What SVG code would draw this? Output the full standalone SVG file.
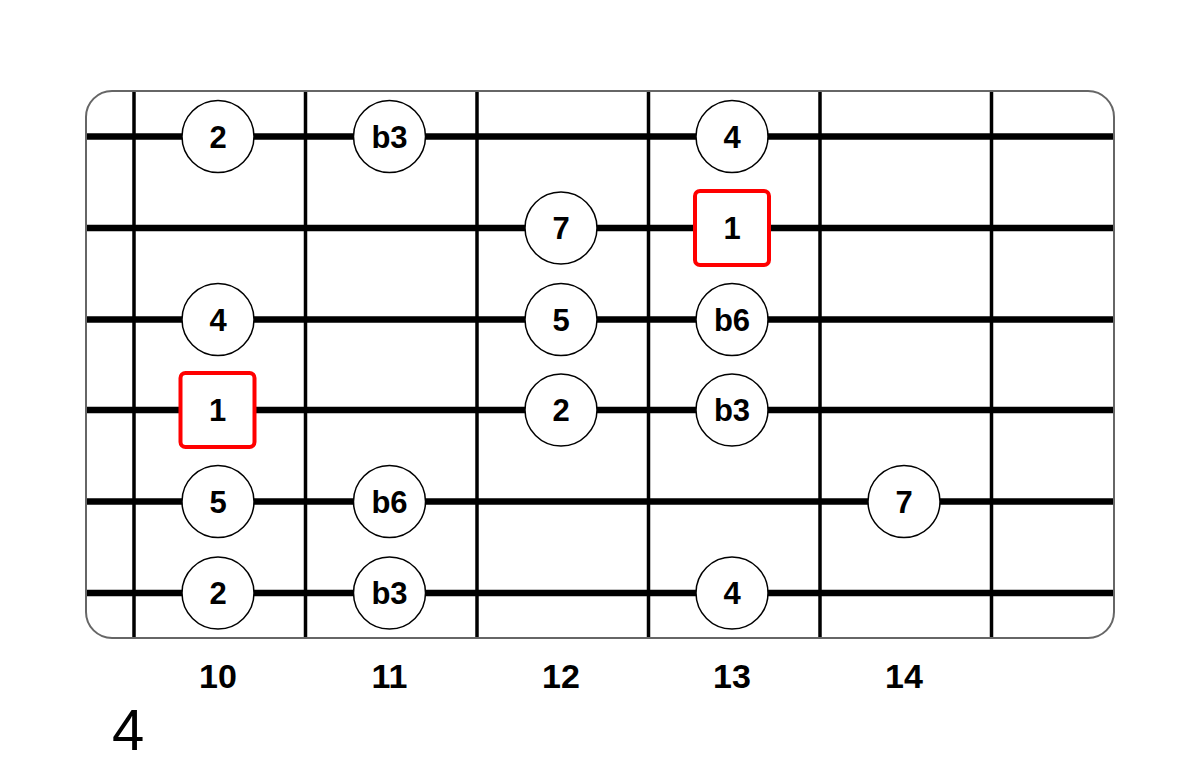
<svg xmlns="http://www.w3.org/2000/svg" width="1200" height="774" viewBox="0 0 1200 774">
<style>
.board{fill:#fff;stroke:#666;stroke-width:2}
.fret{stroke:#000;stroke-width:3.5}
.str{stroke:#000;stroke-width:6.5}
.dot{fill:#fff;stroke:#000;stroke-width:1.5}
.root{fill:#fff;stroke:#f00;stroke-width:4}
.lbl{font-family:"Liberation Sans",Arial,sans-serif;font-weight:bold;font-size:31px;text-anchor:middle;fill:#000}
.num{font-family:"Liberation Sans",Arial,sans-serif;font-weight:bold;font-size:34px;text-anchor:middle;fill:#000}
</style>
<rect class="board" x="86" y="91" width="1028" height="547" rx="26"/>
<g id="connectors">
<line class="fret" x1="134" y1="92" x2="134" y2="637"/>
<line class="fret" x1="305.5" y1="92" x2="305.5" y2="637"/>
<line class="fret" x1="477" y1="92" x2="477" y2="637"/>
<line class="fret" x1="648.5" y1="92" x2="648.5" y2="637"/>
<line class="fret" x1="820" y1="92" x2="820" y2="637"/>
<line class="fret" x1="991.5" y1="92" x2="991.5" y2="637"/>
<line class="str" x1="87" y1="136.5" x2="1113" y2="136.5"/>
<line class="str" x1="87" y1="228" x2="1113" y2="228"/>
<line class="str" x1="87" y1="319.5" x2="1113" y2="319.5"/>
<line class="str" x1="87" y1="410" x2="1113" y2="410"/>
<line class="str" x1="87" y1="501.5" x2="1113" y2="501.5"/>
<line class="str" x1="87" y1="593" x2="1113" y2="593"/>
</g>
<g id="n1"><circle class="dot" cx="218" cy="136.5" r="36"/><text class="lbl" x="218" y="147.5">2</text></g>
<g id="n2"><circle class="dot" cx="389.5" cy="136.5" r="36"/><text class="lbl" x="389.5" y="147.5">b3</text></g>
<g id="n3"><circle class="dot" cx="732" cy="136.5" r="36"/><text class="lbl" x="732" y="147.5">4</text></g>
<g id="n4"><circle class="dot" cx="561" cy="228" r="36"/><text class="lbl" x="561" y="239">7</text></g>
<g id="n5"><rect class="root" x="695" y="191" width="74" height="74" rx="5"/><text class="lbl" x="732" y="239">1</text></g>
<g id="n6"><circle class="dot" cx="218" cy="319.5" r="36"/><text class="lbl" x="218" y="330.5">4</text></g>
<g id="n7"><circle class="dot" cx="561" cy="319.5" r="36"/><text class="lbl" x="561" y="330.5">5</text></g>
<g id="n8"><circle class="dot" cx="732" cy="319.5" r="36"/><text class="lbl" x="732" y="330.5">b6</text></g>
<g id="n9"><rect class="root" x="180.5" y="373" width="74" height="74" rx="5"/><text class="lbl" x="217.5" y="421">1</text></g>
<g id="n10"><circle class="dot" cx="561" cy="410" r="36"/><text class="lbl" x="561" y="421">2</text></g>
<g id="n11"><circle class="dot" cx="732" cy="410" r="36"/><text class="lbl" x="732" y="421">b3</text></g>
<g id="n12"><circle class="dot" cx="218" cy="501.5" r="36"/><text class="lbl" x="218" y="512.5">5</text></g>
<g id="n13"><circle class="dot" cx="389.5" cy="501.5" r="36"/><text class="lbl" x="389.5" y="512.5">b6</text></g>
<g id="n14"><circle class="dot" cx="904" cy="501.5" r="36"/><text class="lbl" x="904" y="512.5">7</text></g>
<g id="n15"><circle class="dot" cx="218" cy="593" r="36"/><text class="lbl" x="218" y="604">2</text></g>
<g id="n16"><circle class="dot" cx="389.5" cy="593" r="36"/><text class="lbl" x="389.5" y="604">b3</text></g>
<g id="n17"><circle class="dot" cx="732" cy="593" r="36"/><text class="lbl" x="732" y="604">4</text></g>
<g id="fret-numbers">
<text class="num" x="218" y="688">10</text>
<text class="num" x="389.5" y="688">11</text>
<text class="num" x="561" y="688">12</text>
<text class="num" x="732" y="688">13</text>
<text class="num" x="904" y="688">14</text>
</g>
<text x="112" y="750" font-family="'Liberation Sans',Arial,sans-serif" font-size="58" fill="#000">4</text>
</svg>
